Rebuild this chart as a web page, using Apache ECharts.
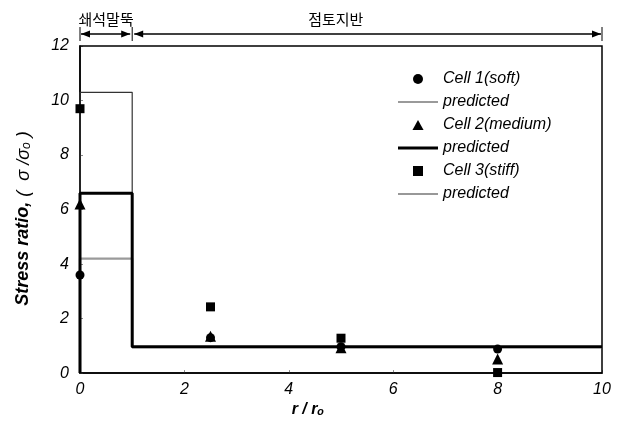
<!DOCTYPE html>
<html><head><meta charset="utf-8">
<script src="https://cdn.jsdelivr.net/npm/echarts@6/dist/echarts.min.js"></script>
<style>html,body{margin:0;padding:0;background:#fff}#c{width:622px;height:423px}</style>
</head><body><div id="c"></div>
<script>
// Measured data
const cellX = [0, 2.5, 5, 8];
const cell1 = [3.6, 1.3, 0.97, 0.88];   // soft
const cell2 = [6.2, 1.35, 0.93, 0.52];  // medium
const cell3 = [9.7, 2.43, 1.28, 0.02];  // stiff
// Predicted step profiles
const predX = [0, 0, 1, 1, 10];
const pred1 = [0, 4.2, 4.2, 0.95, 0.95];
const pred2 = [0, 6.6, 6.6, 0.97, 0.97];
const pred3 = [0, 10.3, 10.3, 0.95, 0.95];
const xTicks = [0, 2, 4, 6, 8, 10];
const yTicks = [0, 2, 4, 6, 8, 10, 12];
const zoneLabels = ['쇄석말뚝', '점토지반'];
const zoneBounds = [0, 1, 10];

const zip = (xs, ys) => xs.map((x, i) => [x, ys[i]]);
const font = 'Liberation Sans, Arial, sans-serif';
const chart = echarts.init(document.getElementById('c'));
const option = {
  animation: false,
  grid: {left: 80, right: 20, top: 46, bottom: 46, show: false},
  xAxis: {
    type: 'value', min: 0, max: 10, interval: 2,
    name: 'r / r\u2092', nameLocation: 'middle', nameGap: 28,
    nameTextStyle: {fontFamily: font, fontSize: 16, fontWeight: 'bold', fontStyle: 'italic', color: '#000', padding: [0, 66, 0, 0]},
    axisLine: {lineStyle: {color: '#000', width: 1.5}},
    axisTick: {inside: true, length: 3, lineStyle: {color: '#888'}},
    axisLabel: {fontFamily: font, fontSize: 16, fontStyle: 'italic', color: '#000', margin: 8},
    splitLine: {show: false}
  },
  yAxis: {
    type: 'value', min: 0, max: 12, interval: 2,
    name: '{b|Stress ratio, }{n|(  \u03c3 /\u03c3}{s|o}{n| )}', nameLocation: 'middle', nameGap: 47,
    nameTextStyle: {color: '#000', padding: [0, 18, 0, 0], rich: {
      b: {fontFamily: font, fontSize: 18, fontWeight: 'bold', fontStyle: 'italic'},
      n: {fontFamily: font, fontSize: 18, fontStyle: 'italic'},
      s: {fontFamily: font, fontSize: 12, fontStyle: 'italic', verticalAlign: 'bottom', padding: [7, 0, 0, 0]}
    }},
    axisLine: {lineStyle: {color: '#000', width: 1.5}},
    axisTick: {inside: true, length: 3, lineStyle: {color: '#888'}},
    axisLabel: {fontFamily: font, fontSize: 16, fontStyle: 'italic', color: '#000', margin: 11},
    splitLine: {show: false}
  },
  legend: {
    orient: 'vertical', left: 393, top: 66, itemWidth: 40, itemHeight: 10, itemGap: 7,
    textStyle: {fontFamily: font, fontSize: 16, fontStyle: 'italic', color: '#000'},
    formatter: n => n.startsWith('pred') ? 'predicted' : n,
    data: [
      {name: 'Cell 1(soft)', icon: 'path://M0 0A4 4 0 1 0 8 0A4 4 0 1 0 0 0Z'},
      {name: 'pred1', icon: 'path://M0 0H40V2.2H0Z'},
      {name: 'Cell 2(medium)', icon: 'path://M5 0L10 9L0 9Z'},
      {name: 'pred2', icon: 'path://M0 0H40V3H0Z'},
      {name: 'Cell 3(stiff)', icon: 'path://M0 0H8V8H0Z'},
      {name: 'pred3', icon: 'path://M0 0H40V1.2H0Z'}
    ]
  },
  series: [
    {name: 'pred1', type: 'line', data: zip(predX, pred1), symbol: 'none', z: 2,
     lineStyle: {color: '#9a9a9a', width: 2.2}, itemStyle: {color: '#9a9a9a'}},
    {name: 'pred3', type: 'line', data: zip(predX, pred3), symbol: 'none', z: 3,
     lineStyle: {color: '#333', width: 1.2}, itemStyle: {color: '#333'}},
    {name: 'pred2', type: 'line', data: zip(predX, pred2), symbol: 'none', z: 4,
     lineStyle: {color: '#000', width: 3}, itemStyle: {color: '#000'}},
    {name: 'Cell 1(soft)', type: 'scatter', data: zip(cellX, cell1), symbol: 'circle', symbolSize: 9, z: 5, itemStyle: {color: '#000', opacity: 1}},
    {name: 'Cell 2(medium)', type: 'scatter', data: zip(cellX, cell2), symbol: 'triangle', symbolSize: 11, z: 6, itemStyle: {color: '#000', opacity: 1}},
    {name: 'Cell 3(stiff)', type: 'scatter', data: zip(cellX, cell3), symbol: 'rect', symbolSize: 9, z: 7, itemStyle: {color: '#000', opacity: 1}}
  ]
};
chart.setOption(option);

// frame + zone annotations
const px = v => chart.convertToPixel({xAxisIndex: 0}, v);
const py = v => chart.convertToPixel({yAxisIndex: 0}, v);
const x0 = px(0), x10 = px(10), yTop = py(12), yBot = py(0);
const g = [];
g.push({type: 'rect', shape: {x: x0, y: yTop, width: x10 - x0, height: yBot - yTop}, style: {fill: 'none', stroke: '#000', lineWidth: 1.5}, z: 1});
const ay = yTop - 12;
const head = (x, dir) => ({type: 'polygon', shape: {points: [[x, ay], [x - dir * 9, ay - 3.5], [x - dir * 9, ay + 3.5]]}, style: {fill: '#000'}});
zoneBounds.forEach(b => {
  const x = px(b);
  g.push({type: 'line', shape: {x1: x, y1: ay - 7, x2: x, y2: ay + 7}, style: {stroke: '#000', lineWidth: 1}});
});
const labelX = [px(0.5), px(4.9)];
for (let i = 0; i < zoneLabels.length; i++) {
  const a = px(zoneBounds[i]) + (i === 0 ? 1 : 2), b = px(zoneBounds[i + 1]) - (i === 0 ? 2 : 1);
  g.push({type: 'line', shape: {x1: a, y1: ay, x2: b, y2: ay}, style: {stroke: '#000', lineWidth: 1.5}});
  g.push(head(a, -1)); g.push(head(b, 1));
  g.push({type: 'text', x: labelX[i], y: ay - 7, style: {text: zoneLabels[i], font: '15px "Noto Sans CJK KR"', fill: '#000', align: 'center', verticalAlign: 'bottom'}});
}
chart.setOption({graphic: g});
</script></body></html>
